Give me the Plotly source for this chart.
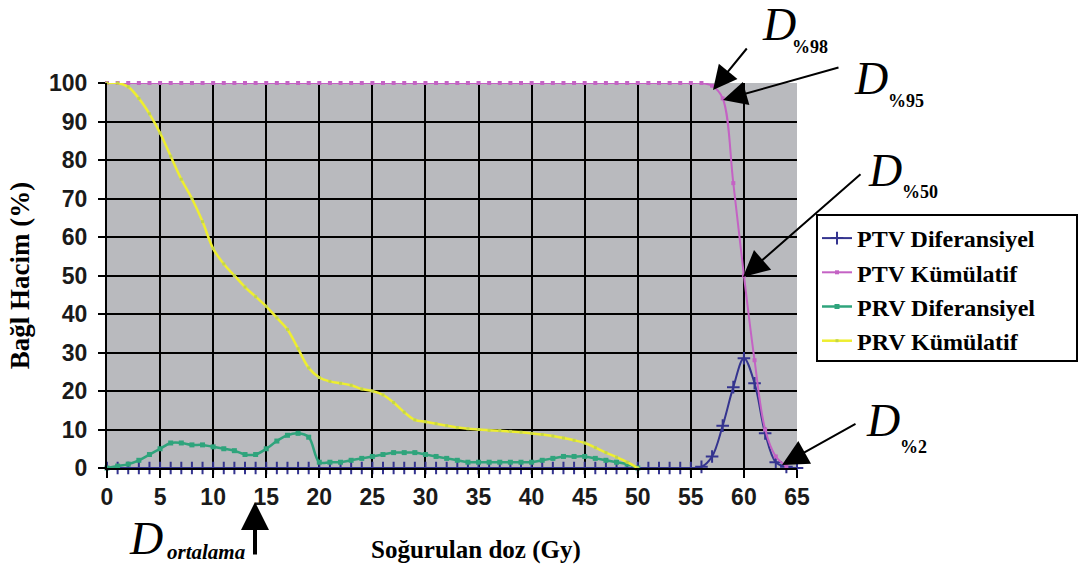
import plotly.graph_objects as go

# ---------------- data ----------------
dose = list(range(0, 66))  # Gy, 0..65

ptv_diff = [0] * 56 + [0.3, 3, 11, 21, 28.5, 22, 9, 1.5, 0.3, 0]
ptv_cum = [100] * 57 + [99.3, 96, 74, 50, 28, 10, 3, 0.5]

prv_dose = list(range(0, 51))
prv_diff = [0, 0.5, 1, 2, 3.5, 5, 6.5, 6.5, 6, 6, 5.5,
            5, 4.5, 3.5, 3.5, 5, 7, 8.5, 9, 8, 1.5,
            1.5, 1.5, 2, 2.5, 3, 3.5, 4, 4, 4, 3.5,
            3, 2.5, 2, 1.5, 1.5, 1.5, 1.5, 1.5, 1.5, 1.5,
            2, 2.5, 3, 3, 3, 2.5, 2, 1.5, 1, 0]
prv_cum = [100, 100, 99, 96, 92, 87, 81, 75, 70, 64, 57,
           53, 50, 47, 44.5, 42, 39, 36, 31, 26, 23.5,
           22.5, 22, 21.5, 20.5, 20, 19, 17, 14.5, 12.5, 12,
           11.5, 11, 10.5, 10.2, 10, 9.8, 9.7, 9.5, 9.3, 9,
           8.7, 8.3, 7.8, 7.2, 6.5, 5.3, 4, 2.8, 1.5, 0]

series_names = ["PTV Diferansiyel", "PTV Kümülatif", "PRV Diferansiyel", "PRV Kümülatif"]
x_ticks = list(range(0, 66, 5))
y_ticks = list(range(0, 101, 10))
x_title = "Soğurulan doz (Gy)"
y_title = "Bağl Hacim (%)"

# ---------------- styles ----------------
NAVY = "#34348f"
MAGENTA = "#c462c4"
GREEN = "#2fa47c"
YELLOW = "#eeee30"
YELLOW_MK = "#c4d646"
PLOT_BG = "#b9babe"
SERIF = "Liberation Serif"
SANS = "Liberation Sans"

L, R, T, B = 107, 284, 83, 102
W, H = 1081, 570
PW, PH = W - L - R, H - T - B


def paper(xp, yp):
    return (xp - L) / PW, (H - B - yp) / PH


fig = go.Figure()
fig.add_trace(go.Scatter(
    x=dose, y=ptv_diff, name="<b>" + series_names[0] + "</b>", mode="lines+markers",
    line=dict(color=NAVY, width=2, shape="spline"),
    marker=dict(symbol="cross-thin", size=9, color=NAVY, line=dict(color=NAVY, width=2)),
    cliponaxis=False))
fig.add_trace(go.Scatter(
    x=dose, y=ptv_cum, name="<b>" + series_names[1] + "</b>", mode="lines+markers",
    line=dict(color=MAGENTA, width=2, shape="spline"),
    marker=dict(symbol="square", size=4, color=MAGENTA),
    cliponaxis=False))
fig.add_trace(go.Scatter(
    x=prv_dose, y=prv_diff, name="<b>" + series_names[2] + "</b>", mode="lines+markers",
    line=dict(color=GREEN, width=2.5, shape="spline"),
    marker=dict(symbol="square", size=5, color=GREEN),
    cliponaxis=False))
fig.add_trace(go.Scatter(
    x=prv_dose, y=prv_cum, name="<b>" + series_names[3] + "</b>", mode="lines+markers",
    line=dict(color=YELLOW, width=2.5, shape="spline"),
    marker=dict(symbol="square", size=3, color=YELLOW_MK),
    cliponaxis=False))

tickfont = dict(family=SANS, size=23, color="#1a1a1a", weight="bold")
fig.update_xaxes(range=[0, 65], tickvals=x_ticks, showgrid=True, gridcolor="black", gridwidth=2,
                 zeroline=False, showline=True, linecolor="black", linewidth=2,
                 ticks="outside", ticklen=8, tickwidth=2, tickcolor="black",
                 tickfont=tickfont, ticklabelstandoff=-1)
fig.update_yaxes(range=[0, 100], tickvals=y_ticks, showgrid=True, gridcolor="black", gridwidth=2,
                 zeroline=False, showline=True, linecolor="black", linewidth=2,
                 ticks="outside", ticklen=7, tickwidth=2, tickcolor="black",
                 tickfont=tickfont, ticklabelstandoff=6,
                 title=dict(text="<b>" + y_title + "</b>", standoff=12,
                            font=dict(family=SERIF, size=27, color="black")))

lx, ly = paper(817, 216)
bx0, by0 = paper(817, 215)
bx1, by1 = paper(1077, 361)
fig.update_layout(
    width=W, height=H, margin=dict(l=L, r=R, t=T, b=B),
    plot_bgcolor=PLOT_BG, paper_bgcolor="white",
    legend=dict(x=lx, y=ly, xanchor="left", yanchor="top", bgcolor="rgba(0,0,0,0)",
                borderwidth=0,
                font=dict(family=SERIF, size=24, color="black"),
                tracegroupgap=0),
    shapes=[dict(type="rect", xref="paper", yref="paper", x0=bx0, y0=by0, x1=bx1, y1=by1,
                 fillcolor="white", line=dict(color="black", width=2), layer="above")],
)

ann = []
px, py = paper(476, 550)
ann.append(dict(x=px, y=py, xref="paper", yref="paper", text="<b>" + x_title + "</b>", showarrow=False,
                xanchor="center", yanchor="middle",
                font=dict(family=SERIF, size=25, color="black")))

labels = [
    ((779, 24), (810, 47), "%98"),
    ((871, 78), (906, 101), "%95"),
    ((885, 170), (920, 192), "%50"),
    ((883, 420), (913, 447), "%2"),
]
for (dx, dy), (sx, sy), sub in labels:
    px, py = paper(dx, dy)
    ann.append(dict(x=px, y=py, xref="paper", yref="paper", text="<i>D</i>", showarrow=False,
                    xanchor="center", yanchor="middle",
                    font=dict(family=SERIF, size=46, color="black")))
    px, py = paper(sx, sy)
    ann.append(dict(x=px, y=py, xref="paper", yref="paper", text="<b>" + sub + "</b>", showarrow=False,
                    xanchor="center", yanchor="middle",
                    font=dict(family=SERIF, size=18, color="black")))

px, py = paper(146, 538)
ann.append(dict(x=px, y=py, xref="paper", yref="paper", text="<i>D</i>", showarrow=False,
                xanchor="center", yanchor="middle",
                font=dict(family=SERIF, size=46, color="black")))
px, py = paper(165, 552)
ann.append(dict(x=px, y=py, xref="paper", yref="paper", text="<b><i>ortalama</i></b>", showarrow=False,
                xanchor="left", yanchor="middle",
                font=dict(family=SERIF, size=21, color="black")))

arrows = [
    ((713, 90), (35, -43), 2, 2.4),
    ((723, 100), (117, -33), 2, 2.4),
    ((743, 277), (119, -104), 2, 2.6),
    ((782, 465), (75, -42), 2, 2.6),
    ((255, 502), (0, 54), 4, 1.4),
]
for (hx, hy), (ax, ay), w, s in arrows:
    px, py = paper(hx, hy)
    ann.append(dict(x=px, y=py, xref="paper", yref="paper", ax=ax, ay=ay, text="",
                    showarrow=True, arrowhead=2, arrowsize=s, arrowwidth=w, arrowcolor="black"))

fig.update_layout(annotations=ann)
fig.write_html("out.html")
